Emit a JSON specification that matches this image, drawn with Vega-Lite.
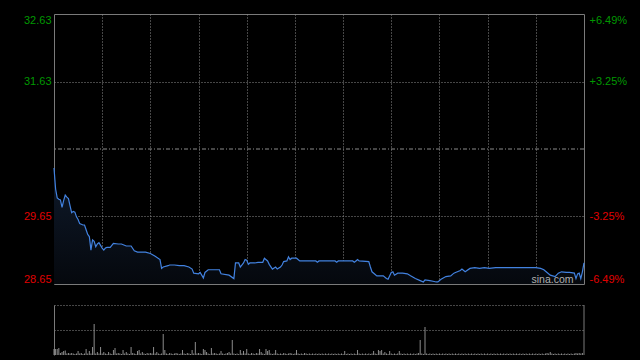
{
  "$schema": "https://vega.github.io/schema/vega-lite/v6.json",
  "background": "#000000",
  "padding": {"left": 22, "top": 13, "right": 13, "bottom": 4},
  "spacing": 18,
  "datasets": {
    "price": [
      {"t":0,"p":30.36},{"t":1,"p":30.05},{"t":2,"p":29.92},{"t":3,"p":29.90},{"t":4,"p":29.89},{"t":5,"p":29.78},{"t":6,"p":29.88},{"t":7,"p":29.96},{"t":8,"p":29.93},{"t":9,"p":29.91},
      {"t":10,"p":29.80},{"t":11,"p":29.70},{"t":12,"p":29.72},{"t":13,"p":29.71},{"t":14,"p":29.64},{"t":15,"p":29.60},{"t":16,"p":29.54},{"t":17,"p":29.53},{"t":18,"p":29.52},{"t":19,"p":29.52},
      {"t":20,"p":29.45},{"t":21,"p":29.38},{"t":22,"p":29.35},{"t":23,"p":29.15},{"t":24,"p":29.30},{"t":25,"p":29.28},{"t":26,"p":29.20},{"t":27,"p":29.24},{"t":28,"p":29.26},{"t":29,"p":29.22},
      {"t":30,"p":29.18},{"t":31,"p":29.15},{"t":32,"p":29.18},{"t":33,"p":29.19},{"t":35,"p":29.19},{"t":36,"p":29.22},{"t":37,"p":29.25},{"t":40,"p":29.24},{"t":42,"p":29.24},{"t":45,"p":29.21},
      {"t":48,"p":29.21},{"t":50,"p":29.14},{"t":52,"p":29.12},{"t":57,"p":29.12},{"t":60,"p":29.10},{"t":63,"p":29.06},{"t":66,"p":29.01},{"t":67,"p":28.88},{"t":68,"p":28.90},{"t":71,"p":28.92},
      {"t":72,"p":28.93},{"t":75,"p":28.93},{"t":78,"p":28.92},{"t":81,"p":28.92},{"t":84,"p":28.90},{"t":86,"p":28.87},{"t":87,"p":28.81},{"t":90,"p":28.80},{"t":91,"p":28.82},{"t":93,"p":28.74},
      {"t":94,"p":28.82},{"t":96,"p":28.86},{"t":103,"p":28.86},{"t":104,"p":28.80},{"t":109,"p":28.78},{"t":112,"p":28.73},{"t":113,"p":28.96},{"t":115,"p":28.96},{"t":116,"p":28.90},{"t":118,"p":28.96},
      {"t":119,"p":29.01},{"t":120,"p":29.00},{"t":121,"p":28.94},{"t":122,"p":28.96},{"t":125,"p":28.96},{"t":127,"p":28.97},{"t":130,"p":28.97},{"t":131,"p":29.03},{"t":133,"p":28.99},{"t":134,"p":28.94},
      {"t":136,"p":28.87},{"t":138,"p":28.90},{"t":139,"p":28.87},{"t":141,"p":28.90},{"t":142,"p":28.93},{"t":143,"p":28.98},{"t":145,"p":28.99},{"t":146,"p":29.05},{"t":147,"p":29.01},{"t":148,"p":29.03},
      {"t":151,"p":29.03},{"t":153,"p":28.99},{"t":163,"p":28.99},{"t":164,"p":28.97},{"t":165,"p":28.99},{"t":175,"p":28.99},{"t":176,"p":28.97},{"t":177,"p":28.99},{"t":186,"p":28.99},{"t":187,"p":28.97},
      {"t":188,"p":28.99},{"t":189,"p":29.01},{"t":190,"p":28.99},{"t":196,"p":28.98},{"t":197,"p":28.90},{"t":198,"p":28.83},{"t":200,"p":28.79},{"t":201,"p":28.77},{"t":205,"p":28.77},{"t":207,"p":28.73},
      {"t":208,"p":28.72},{"t":210,"p":28.82},{"t":211,"p":28.83},{"t":212,"p":28.78},{"t":214,"p":28.81},{"t":217,"p":28.81},{"t":220,"p":28.80},{"t":222,"p":28.77},{"t":225,"p":28.73},{"t":228,"p":28.70},
      {"t":230,"p":28.68},{"t":231,"p":28.71},{"t":234,"p":28.70},{"t":236,"p":28.69},{"t":238,"p":28.68},{"t":239,"p":28.68},{"t":241,"p":28.72},{"t":244,"p":28.76},{"t":247,"p":28.77},{"t":249,"p":28.81},
      {"t":250,"p":28.82},{"t":253,"p":28.85},{"t":254,"p":28.87},{"t":256,"p":28.83},{"t":259,"p":28.88},{"t":262,"p":28.89},{"t":265,"p":28.88},{"t":268,"p":28.89},{"t":271,"p":28.88},{"t":275,"p":28.89},
      {"t":300,"p":28.89},{"t":303,"p":28.88},{"t":305,"p":28.86},{"t":307,"p":28.82},{"t":309,"p":28.78},{"t":312,"p":28.76},{"t":314,"p":28.81},{"t":316,"p":28.83},{"t":319,"p":28.82},{"t":321,"p":28.82},
      {"t":324,"p":28.81},{"t":325,"p":28.73},{"t":326,"p":28.80},{"t":327,"p":28.81},{"t":328,"p":28.73},{"t":329,"p":28.83},{"t":330,"p":28.96}
    ],
    "vol": [
      {"t":0,"v":6},{"t":1,"v":6},{"t":2,"v":6},{"t":3,"v":7},{"t":4,"v":2},{"t":5,"v":3},{"t":6,"v":4},{"t":7,"v":4.5},{"t":8,"v":1.5},{"t":9,"v":2},
      {"t":10,"v":1.5},{"t":11,"v":2},{"t":12,"v":1.5},{"t":13,"v":1},{"t":14,"v":1.5},{"t":15,"v":4},{"t":16,"v":1.5},{"t":17,"v":2},{"t":18,"v":1},{"t":19,"v":1.5},
      {"t":20,"v":6},{"t":21,"v":1.5},{"t":22,"v":4},{"t":23,"v":1.5},{"t":24,"v":8},{"t":25,"v":31},{"t":26,"v":1.5},{"t":27,"v":3},{"t":28,"v":1.5},{"t":29,"v":8},
      {"t":30,"v":1.5},{"t":31,"v":3},{"t":32,"v":1.5},{"t":33,"v":1},{"t":34,"v":3},{"t":35,"v":1.5},{"t":36,"v":1},{"t":37,"v":5},{"t":38,"v":7},{"t":39,"v":1.5},
      {"t":40,"v":2},{"t":41,"v":1.5},{"t":42,"v":1},{"t":43,"v":5},{"t":44,"v":1.5},{"t":45,"v":3},{"t":46,"v":1.5},{"t":47,"v":1},{"t":48,"v":8},{"t":49,"v":2},
      {"t":50,"v":1.5},{"t":51,"v":1},{"t":52,"v":4},{"t":53,"v":5},{"t":54,"v":1.5},{"t":55,"v":3},{"t":56,"v":1.5},{"t":57,"v":1},{"t":58,"v":2},{"t":59,"v":1.5},
      {"t":60,"v":2},{"t":61,"v":1.5},{"t":62,"v":8},{"t":63,"v":1.5},{"t":64,"v":3},{"t":65,"v":1.5},{"t":66,"v":1},{"t":67,"v":1.5},{"t":68,"v":21},{"t":69,"v":5},
      {"t":70,"v":1.5},{"t":71,"v":1},{"t":72,"v":2},{"t":73,"v":1.5},{"t":74,"v":1},{"t":75,"v":1.5},{"t":76,"v":2},{"t":77,"v":1.5},{"t":78,"v":1},{"t":79,"v":1.5},
      {"t":80,"v":5},{"t":81,"v":1.5},{"t":82,"v":1},{"t":83,"v":2},{"t":84,"v":1.5},{"t":85,"v":1},{"t":86,"v":5},{"t":87,"v":1.5},{"t":88,"v":13},{"t":89,"v":1.5},
      {"t":90,"v":2},{"t":91,"v":1.5},{"t":92,"v":1},{"t":93,"v":6},{"t":94,"v":5},{"t":95,"v":3},{"t":96,"v":1.5},{"t":97,"v":1},{"t":98,"v":7},{"t":99,"v":1.5},
      {"t":100,"v":2},{"t":101,"v":1.5},{"t":102,"v":1},{"t":103,"v":1.5},{"t":104,"v":4},{"t":105,"v":1.5},{"t":106,"v":1},{"t":107,"v":1.5},{"t":108,"v":2},{"t":109,"v":3},
      {"t":110,"v":1.5},{"t":111,"v":15},{"t":112,"v":1.5},{"t":113,"v":1},{"t":114,"v":1.5},{"t":115,"v":1},{"t":116,"v":5},{"t":117,"v":1.5},{"t":118,"v":4},{"t":119,"v":1.5},
      {"t":120,"v":6},{"t":121,"v":1.5},{"t":122,"v":1},{"t":123,"v":2},{"t":124,"v":1.5},{"t":125,"v":1},{"t":126,"v":2},{"t":127,"v":1.5},{"t":128,"v":6},{"t":129,"v":3},
      {"t":130,"v":1.5},{"t":131,"v":1},{"t":132,"v":6},{"t":133,"v":4},{"t":134,"v":5},{"t":135,"v":1.5},{"t":136,"v":1},{"t":137,"v":1.5},{"t":138,"v":5},{"t":139,"v":1.5},
      {"t":140,"v":1},{"t":141,"v":1.5},{"t":142,"v":1},{"t":143,"v":2},{"t":144,"v":1.5},{"t":145,"v":1},{"t":146,"v":1.5},{"t":147,"v":2},{"t":148,"v":1.5},{"t":149,"v":1},
      {"t":150,"v":1.5},{"t":151,"v":5},{"t":152,"v":1.5},{"t":153,"v":1},{"t":154,"v":1.5},{"t":155,"v":1},{"t":156,"v":2},{"t":157,"v":1.5},{"t":158,"v":1},{"t":159,"v":1.5},
      {"t":160,"v":1},{"t":161,"v":1.5},{"t":162,"v":1},{"t":163,"v":1.5},{"t":164,"v":1},{"t":165,"v":1.5},{"t":166,"v":1},{"t":167,"v":1.5},{"t":168,"v":1},{"t":169,"v":1.5},
      {"t":170,"v":1},{"t":171,"v":1.5},{"t":172,"v":1},{"t":173,"v":1.5},{"t":174,"v":1},{"t":175,"v":1.5},{"t":176,"v":1},{"t":177,"v":1.5},{"t":178,"v":1},{"t":179,"v":1.5},
      {"t":180,"v":1},{"t":181,"v":4},{"t":182,"v":1},{"t":183,"v":1.5},{"t":184,"v":1},{"t":185,"v":1.5},{"t":186,"v":1},{"t":187,"v":1.5},{"t":188,"v":1},{"t":189,"v":5},
      {"t":190,"v":1.5},{"t":191,"v":1},{"t":192,"v":1.5},{"t":193,"v":1},{"t":194,"v":1.5},{"t":195,"v":1},{"t":196,"v":1.5},{"t":197,"v":1},{"t":198,"v":1.5},{"t":199,"v":4},
      {"t":200,"v":1.5},{"t":201,"v":1},{"t":202,"v":5},{"t":203,"v":4},{"t":204,"v":5},{"t":205,"v":1.5},{"t":206,"v":3},{"t":207,"v":1.5},{"t":208,"v":1},{"t":209,"v":4},
      {"t":210,"v":1.5},{"t":211,"v":1},{"t":212,"v":1.5},{"t":213,"v":1},{"t":214,"v":1.5},{"t":215,"v":4},{"t":216,"v":1.5},{"t":217,"v":1},{"t":218,"v":1.5},{"t":219,"v":1},
      {"t":220,"v":1.5},{"t":221,"v":1},{"t":222,"v":1.5},{"t":223,"v":1},{"t":224,"v":1.5},{"t":225,"v":1},{"t":226,"v":1.5},{"t":227,"v":2},{"t":228,"v":15},{"t":229,"v":1.5},
      {"t":230,"v":1},{"t":231,"v":28},{"t":232,"v":1.5},{"t":233,"v":1},{"t":234,"v":1.5},{"t":235,"v":1},{"t":236,"v":1.5},{"t":237,"v":1},{"t":238,"v":1.5},{"t":239,"v":1},
      {"t":240,"v":1.5},{"t":241,"v":1},{"t":242,"v":1.5},{"t":243,"v":1},{"t":244,"v":1.5},{"t":245,"v":1},{"t":246,"v":1.5},{"t":247,"v":1},{"t":248,"v":1.5},{"t":249,"v":1},
      {"t":250,"v":1.5},{"t":251,"v":1},{"t":252,"v":1.5},{"t":253,"v":1},{"t":254,"v":1.5},{"t":255,"v":1},{"t":256,"v":1.5},{"t":257,"v":1},{"t":258,"v":1.5},{"t":259,"v":1},
      {"t":260,"v":1.5},{"t":261,"v":1},{"t":262,"v":1.5},{"t":263,"v":1},{"t":264,"v":1.5},{"t":265,"v":1},{"t":266,"v":1.5},{"t":267,"v":1},{"t":268,"v":1.5},{"t":269,"v":1},
      {"t":270,"v":1.5},{"t":271,"v":1},{"t":272,"v":1.5},{"t":273,"v":1},{"t":274,"v":1.5},{"t":275,"v":1},{"t":276,"v":1.5},{"t":277,"v":1},{"t":278,"v":1.5},{"t":279,"v":1},
      {"t":280,"v":1.5},{"t":281,"v":1},{"t":282,"v":1.5},{"t":283,"v":1},{"t":284,"v":1.5},{"t":285,"v":1},{"t":286,"v":1.5},{"t":287,"v":1},{"t":288,"v":1.5},{"t":289,"v":1},
      {"t":290,"v":1.5},{"t":291,"v":1},{"t":292,"v":1.5},{"t":293,"v":1},{"t":294,"v":1.5},{"t":295,"v":1},{"t":296,"v":1.5},{"t":297,"v":1},{"t":298,"v":1.5},{"t":299,"v":1},
      {"t":300,"v":1.5},{"t":301,"v":1},{"t":302,"v":1.5},{"t":303,"v":1},{"t":304,"v":1.5},{"t":305,"v":1},{"t":306,"v":1.5},{"t":307,"v":2},{"t":308,"v":1.5},{"t":309,"v":3},
      {"t":310,"v":1.5},{"t":311,"v":1},{"t":312,"v":1.5},{"t":313,"v":1},{"t":314,"v":1.5},{"t":315,"v":1},{"t":316,"v":1.5},{"t":317,"v":1},{"t":318,"v":1.5},{"t":319,"v":1},
      {"t":320,"v":1.5},{"t":321,"v":1},{"t":322,"v":1.5},{"t":323,"v":1},{"t":324,"v":1.5},{"t":325,"v":2},{"t":326,"v":1.5},{"t":327,"v":2},{"t":328,"v":1.5},{"t":329,"v":2}
    ],
    "ref": [{"pc": 30.64}],
    "brand": [{"label": "sina.com", "t": 310.4, "p": 28.716}]
  },
  "config": {
    "view": {"stroke": "#7a7a7a", "strokeWidth": 1, "fill": "#000000"},
    "axis": {
      "labelFont": "Liberation Sans",
      "labelFontSize": 11,
      "gridColor": "#8c8c8c",
      "gridDash": [1, 2],
      "gridWidth": 1,
      "domainColor": "#7a7a7a",
      "ticks": false,
      "title": null
    }
  },
  "vconcat": [
    {
      "width": 530,
      "height": 270,
      "layer": [
        {
          "data": {"name": "price"},
          "mark": {
            "type": "area",
            "fill": {"gradient": "linear", "x1": 0, "y1": 0, "x2": 0, "y2": 1,
              "stops": [{"offset": 0, "color": "#0f1a2b"}, {"offset": 1, "color": "#05080d"}]}
          },
          "encoding": {
            "x": {"field": "t", "type": "quantitative",
              "scale": {"domain": [0, 330], "nice": false, "zero": false},
              "axis": {"values": [30, 60, 90, 120, 150, 180, 210, 240, 270, 300], "labels": false, "domain": false, "ticks": false, "grid": true, "title": null}},
            "y": {"field": "p", "type": "quantitative",
              "scale": {"domain": [28.65, 32.63], "nice": false, "zero": false},
              "axis": {"orient": "left", "values": [28.65, 29.65, 31.63, 32.63], "format": ".2f",
                "labelFlush": true, "labelPadding": 3, "domain": false, "ticks": false, "grid": true,
                "gridOpacity": {"condition": {"test": "datum.value < 29 || datum.value > 32", "value": 0}, "value": 1},
                "labelColor": {"condition": {"test": "datum.value > 30.64", "value": "#009800"}, "value": "#e00000"},
                "title": null}},
            "y2": {"datum": 28.65}
          }
        },
        {
          "data": {"name": "ref"},
          "mark": {"type": "rule", "stroke": "#8c8c8c", "strokeWidth": 1, "strokeDash": [4, 2, 1, 2]},
          "encoding": {"y": {"field": "pc", "type": "quantitative", "axis": null}}
        },
        {
          "data": {"name": "price"},
          "mark": {"type": "line", "stroke": "#4282e0", "strokeWidth": 1.2},
          "encoding": {
            "x": {"field": "t", "type": "quantitative"},
            "y": {"field": "p", "type": "quantitative",
              "axis": {"orient": "right", "values": [28.65, 29.65, 31.63, 32.63],
                "labelExpr": "datum.value > 32 ? '+6.49%' : datum.value > 31 ? '+3.25%' : datum.value > 29 ? '-3.25%' : '-6.49%'",
                "labelFlush": true, "labelPadding": 5, "domain": false, "ticks": false, "grid": false,
                "labelColor": {"condition": {"test": "datum.value > 30.64", "value": "#009800"}, "value": "#e00000"},
                "title": null}}
          }
        },
        {
          "data": {"name": "brand"},
          "mark": {"type": "text", "color": "#b0b0b0", "fontSize": 10.5, "font": "Liberation Sans", "baseline": "middle", "align": "center"},
          "encoding": {
            "x": {"field": "t", "type": "quantitative"},
            "y": {"field": "p", "type": "quantitative", "axis": null},
            "text": {"field": "label"}
          }
        }
      ],
      "resolve": {"axis": {"y": "independent"}}
    },
    {
      "width": 530,
      "height": 50,
      "view": {"stroke": null},
      "layer": [
        {
          "data": {"name": "vol"},
          "mark": {"type": "rule", "stroke": "#8c8c8c", "strokeWidth": 1},
          "encoding": {
            "x": {"field": "t", "type": "quantitative",
              "scale": {"domain": [0, 330], "nice": false, "zero": false}, "axis": null},
            "y": {"field": "v", "type": "quantitative",
              "scale": {"domain": [0, 50], "nice": false},
              "axis": {"values": [25, 50], "labels": false, "ticks": false, "domain": true, "grid": true, "title": null}},
            "y2": {"datum": 0}
          }
        },
        {
          "data": {"values": [{}]},
          "mark": {"type": "rule", "stroke": "#7a7a7a", "strokeWidth": 1},
          "encoding": {"x": {"datum": 330}}
        }
      ]
    }
  ]
}
